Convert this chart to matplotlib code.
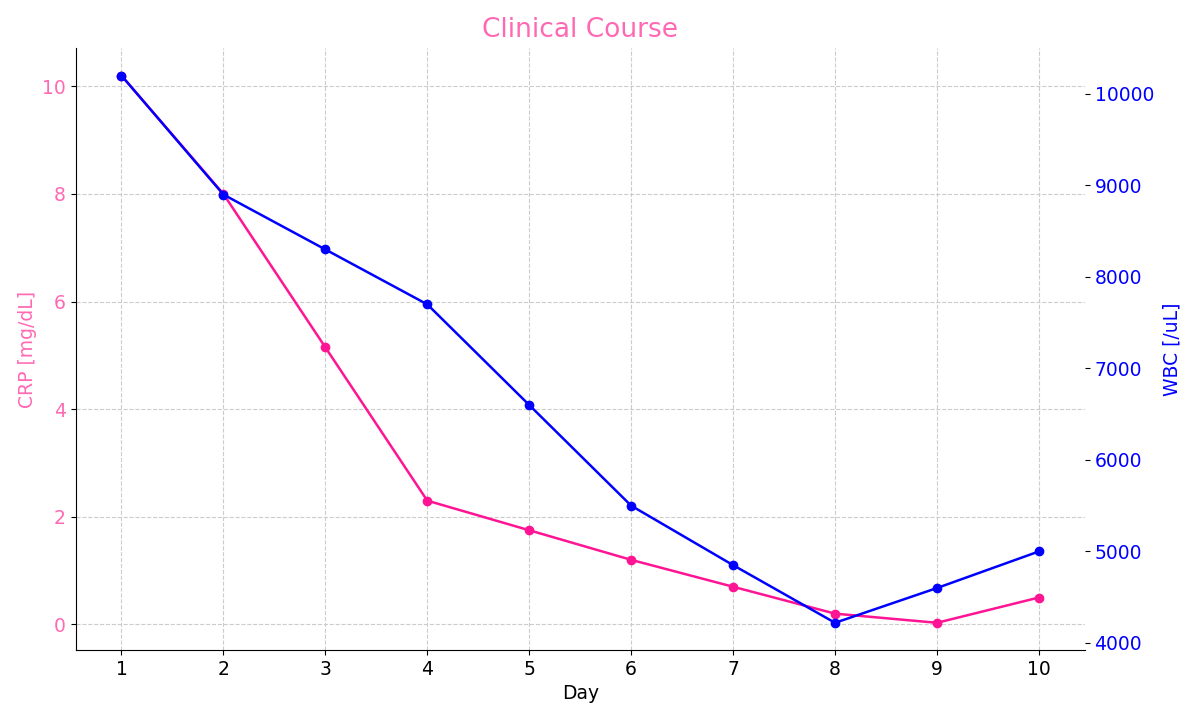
import matplotlib
matplotlib.use('Agg')
import matplotlib.pyplot as plt

days = [1, 2, 3, 4, 5, 6, 7, 8, 9, 10]
crp = [10.2, 8.0, 5.15, 2.3, 1.75, 1.2, 0.7, 0.2, 0.03, 0.5]
wbc = [10200, 8900, 8300, 7700, 6600, 5500, 4850, 4220, 4600, 5000]

fig, ax1 = plt.subplots(figsize=(12, 7.2), dpi=100)

ax1.plot(days, crp, color='deeppink', marker='o', markersize=6, linewidth=1.8)
ax1.set_xlabel('Day', fontsize=13.5)
ax1.set_ylabel('CRP [mg/dL]', color='hotpink', fontsize=13.5)
ax1.tick_params(axis='y', labelcolor='hotpink', labelsize=13.5)
ax1.tick_params(axis='x', labelsize=13.5)
ax1.set_xticks(days)
ax1.grid(True, linestyle='--', color='#cccccc', linewidth=0.8)
ax1.spines['top'].set_visible(False)
ax1.spines['right'].set_visible(False)

ax2 = ax1.twinx()
ax2.plot(days, wbc, color='blue', marker='o', markersize=6, linewidth=1.8)
ax2.set_ylabel('WBC [/uL]', color='blue', fontsize=13.5, labelpad=6)
ax2.tick_params(axis='y', labelcolor='blue', labelsize=13.5)
for s in ax2.spines.values():
    s.set_visible(False)

plt.title('Clinical Course', color='hotpink', fontsize=19, pad=8)
fig.subplots_adjust(left=0.063, right=0.904, top=0.933, bottom=0.097)
fig.savefig('out.png')
